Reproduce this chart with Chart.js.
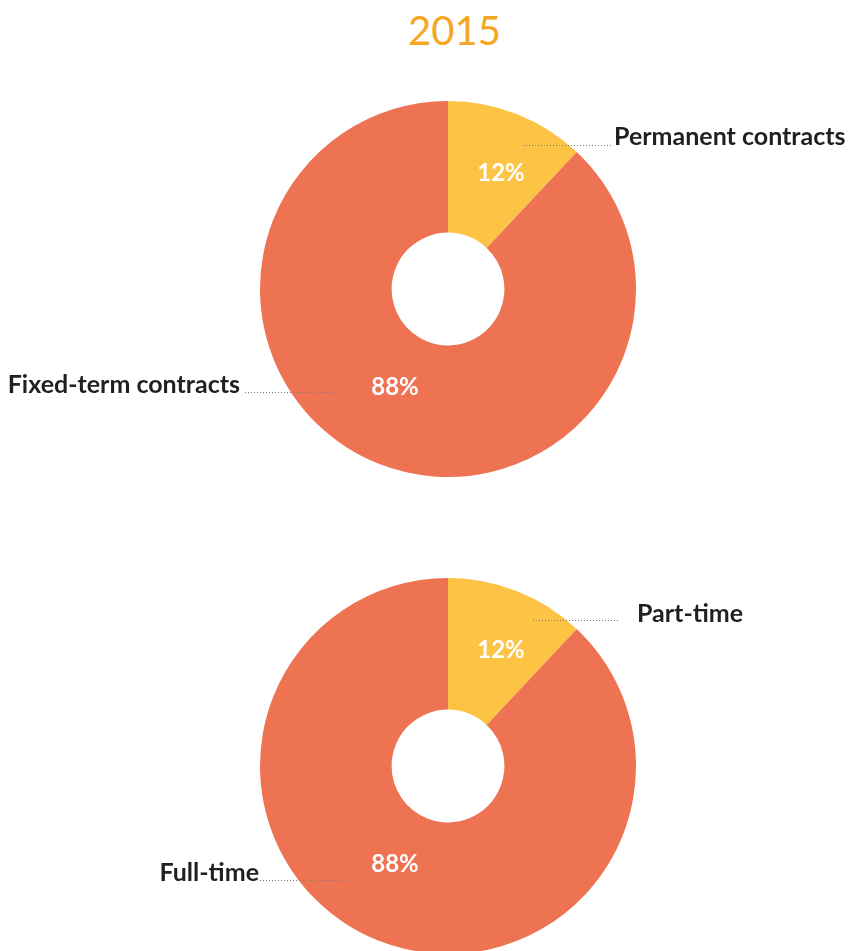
<!DOCTYPE html>
<html lang="en">
<head>
  <meta charset="UTF-8" />
  <title>2015 contracts</title>
  <script src="https://cdn.jsdelivr.net/npm/chart.js"></script>
  <style>
    html, body {
      margin: 0;
      padding: 0;
      width: 851px;
      height: 951px;
      overflow: hidden;
      background: #fff;
      font-family: Lato, sans-serif;
    }
    #title {
      position: absolute;
      left: 0;
      width: 909px;
      top: 6px;
      text-align: center;
      font-size: 40px;
      color: #f5a623;
      line-height: 48px;
    }
    canvas { position: absolute; left: 0; }
    #contractChart { top: 0; }
    #timeChart { top: 478px; }
  </style>
</head>
<body>
  <div id="title">2015</div>
  <canvas id="contractChart" width="851" height="480"></canvas>
  <canvas id="timeChart" width="851" height="480"></canvas>

  <script>
    // ---- data ----
    const contractLabels = ['Permanent contracts', 'Fixed-term contracts'];
    const contractValues = [12, 88];
    const timeLabels = ['Part-time', 'Full-time'];
    const timeValues = [12, 88];
    const sliceColors = ['#fcc345', '#ee7352'];

    // nudges for the white percentage labels, relative to the ring midpoint
    const pctNudges = [[8, -2], [-8, -15]];

    // labels + dotted leaders, offsets from the doughnut centre
    const contractCallouts = [
      { align: 'left', tx: 166, ty: -144, line: [75, -144, 163, -144] },
      { align: 'right', tx: -208, ty: 104, line: [-203, 103, -115, 103] }
    ];
    const timeCallouts = [
      { align: 'left', tx: 189, ty: -144, line: [85, -146, 172, -146] },
      { align: 'right', tx: -189, ty: 115, line: [-188, 114, -102, 114] }
    ];

    const calloutPlugin = {
      id: 'callouts',
      afterDatasetsDraw(chart, args, opts) {
        const ctx = chart.ctx;
        const meta = chart.getDatasetMeta(0);
        const data = chart.data.datasets[0].data;
        const total = data.reduce((a, b) => a + b, 0);
        ctx.save();
        meta.data.forEach((arc, i) => {
          const p = arc.getProps(['x', 'y', 'startAngle', 'endAngle', 'innerRadius', 'outerRadius'], true);
          const mid = (p.startAngle + p.endAngle) / 2;
          const r = (p.innerRadius + p.outerRadius) / 2;
          const nx = pctNudges[i][0], ny = pctNudges[i][1];
          ctx.fillStyle = '#fff';
          ctx.font = 'bold 24px Lato, sans-serif';
          ctx.textAlign = 'center';
          ctx.textBaseline = 'middle';
          ctx.fillText(Math.round(data[i] / total * 100) + '%',
            p.x + Math.cos(mid) * r + nx, p.y + Math.sin(mid) * r + ny);

          const c = opts.items[i];
          const l = c.line;
          ctx.strokeStyle = '#7a7a7a';
          ctx.lineWidth = 1;
          ctx.setLineDash([1, 2]);
          ctx.beginPath();
          ctx.moveTo(p.x + l[0], p.y + l[1] + 0.5);
          ctx.lineTo(p.x + l[2], p.y + l[3] + 0.5);
          ctx.stroke();
          ctx.setLineDash([]);

          ctx.fillStyle = '#231f20';
          ctx.font = 'bold 25px Lato, sans-serif';
          ctx.textAlign = c.align;
          ctx.textBaseline = 'alphabetic';
          ctx.fillText(chart.data.labels[i], p.x + c.tx, p.y + c.ty);
        });
        ctx.restore();
      }
    };

    function renderDoughnut(canvasId, labels, values, padding, callouts) {
      new Chart(document.getElementById(canvasId), {
        type: 'doughnut',
        data: {
          labels: labels,
          datasets: [{
            data: values,
            backgroundColor: sliceColors,
            borderWidth: 0
          }]
        },
        options: {
          responsive: false,
          animation: false,
          cutout: '30%',
          layout: { padding: padding },
          plugins: {
            legend: { display: false },
            tooltip: { enabled: false },
            callouts: { items: callouts }
          }
        },
        plugins: [calloutPlugin]
      });
    }

    renderDoughnut('contractChart', contractLabels, contractValues,
      { top: 101, bottom: 3, left: 260, right: 215 }, contractCallouts);
    renderDoughnut('timeChart', timeLabels, timeValues,
      { top: 100, bottom: 4, left: 260, right: 215 }, timeCallouts);
  </script>
</body>
</html>
